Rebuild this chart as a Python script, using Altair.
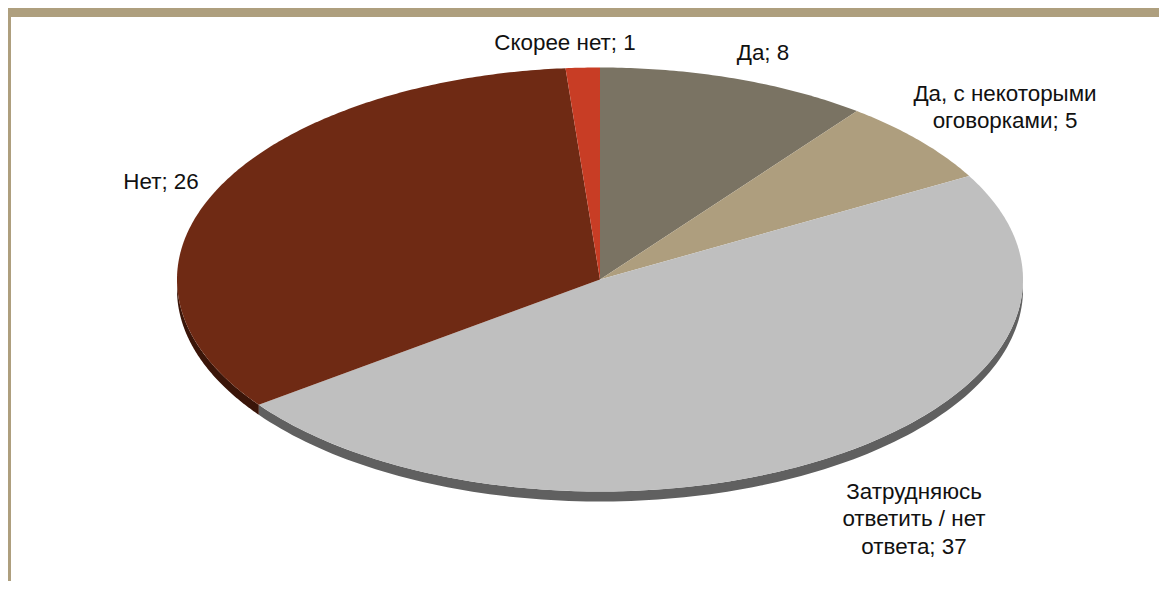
import numpy as np
import pandas as pd
import altair as alt

categories = ["Да", "Да, с некоторыми оговорками", "Затрудняюсь ответить / нет ответа", "Нет", "Скорее нет"]
values = [8, 5, 37, 26, 1]
label_texts = ["Да; 8", "Да, с некоторыми\nоговорками; 5", "Затрудняюсь\nответить / нет\nответа; 37", "Нет; 26", "Скорее нет; 1"]
label_x = [763, 1005, 914, 161, 565]
label_y = [53, 93.5, 491.5, 182, 43]
colors = ["#7A7363", "#AE9E7E", "#BFBFBF", "#6F2A14", "#C83D25"]
side_colors = ["#4A4538", "#6E6350", "#606060", "#3A1509", "#7A2515"]

M = 8
W, H = 1167 - 2 * M, 589 - 2 * M
CX, CY, RX, RY, DEPTH = 600, 279.5, 423, 212, 10
BAND = "#AE9F7E"

total = sum(values)
edges = np.concatenate([[0], np.cumsum(values)]) / total * 2 * np.pi

def ex(t):
    return CX + RX * np.sin(t)

def ey(t, off=0):
    return CY - RY * np.cos(t) + off

top_rows, side_rows = [], []
for i, name in enumerate(categories):
    ts = np.linspace(edges[i], edges[i + 1], max(int(values[i] * 8), 12))
    rows = [(CX, CY)] + [(ex(t), ey(t)) for t in ts]
    for k, (x, y) in enumerate(rows):
        top_rows.append({"cat": name, "x": x, "y": y, "k": k})
    lo, hi = max(edges[i], np.pi / 2), min(edges[i + 1], 3 * np.pi / 2)
    if hi > lo:
        ss = np.linspace(lo, hi, 120)
        poly = [(ex(t), ey(t)) for t in ss] + [(ex(t), ey(t, DEPTH)) for t in ss[::-1]]
        for k, (x, y) in enumerate(poly):
            side_rows.append({"cat": name, "x": x, "y": y, "k": k})

top_df = pd.DataFrame(top_rows)
side_df = pd.DataFrame(side_rows)
label_df = pd.DataFrame({"text": label_texts, "x": label_x, "y": label_y})

xs = alt.Scale(domain=[M, M + W], range=[0, W], nice=False, zero=False)
ys = alt.Scale(domain=[M, M + H], range=[0, H], nice=False, zero=False)
X = alt.X("x:Q", scale=xs, axis=None)
Y = alt.Y("y:Q", scale=ys, axis=None)

side = alt.Chart(side_df).mark_line(filled=True, strokeWidth=0, interpolate="linear").encode(
    x=X, y=Y, order="k:Q",
    color=alt.Color("cat:N", scale=alt.Scale(domain=categories, range=side_colors), legend=None),
)
top = alt.Chart(top_df).mark_line(filled=True, strokeWidth=0, interpolate="linear").encode(
    x=X, y=Y, order="k:Q",
    color=alt.Color("cat:N", scale=alt.Scale(domain=categories, range=colors), legend=None),
)
labels = alt.Chart(label_df).mark_text(
    font="Liberation Sans", fontSize=22.4, color="#111111", align="center", baseline="middle",
    lineBreak="\n", lineHeight=27.5,
).encode(x=X, y=Y, text="text:N")

band_top = alt.Chart(pd.DataFrame({"a": [0]})).mark_rect(color=BAND).encode(
    x=alt.value(0), x2=alt.value(W), y=alt.value(0), y2=alt.value(9))
band_left = alt.Chart(pd.DataFrame({"a": [0]})).mark_rect(color=BAND).encode(
    x=alt.value(0), x2=alt.value(3), y=alt.value(0), y2=alt.value(H))

chart = alt.layer(band_top, band_left, side, top, labels).resolve_scale(color="independent").properties(
    width=W, height=H, padding=0, autosize=alt.AutoSizeParams(type="none"),
    background="white",
).configure_view(stroke=None)

chart.save("out.html", embed_options={"renderer": "svg", "actions": False})
